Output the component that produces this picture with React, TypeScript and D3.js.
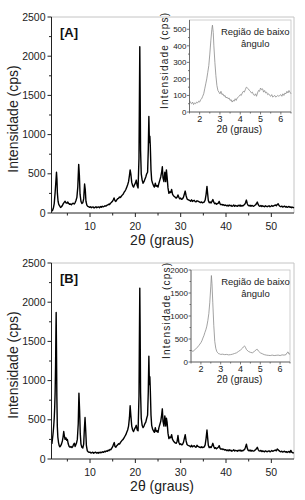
import React from 'react';
import * as d3 from 'd3';

type Pt = [number, number];

const xTicksMain = [10, 20, 30, 40, 50];
const yTicksMain = [0, 500, 1000, 1500, 2000, 2500];
const xTicksInset = [2, 3, 4, 5, 6];
const yTicksInsetA = [0, 100, 200, 300, 400, 500];
const yTicksInsetB = [0, 500, 1000, 1500, 2000];
const panelLabels = ['[A]', '[B]'];
const xTitle = '2θ (graus)';
const yTitle = 'Intensidade (cps)';
const insetNote = ['Região de baixo', 'ângulo'];

// amostra A, 2θ (graus) x intensidade (cps)
const patternA: Pt[] = [
  [1.5, 40], [1.7, 30], [1.9, 60], [2.1, 120], [2.3, 260], [2.5, 430], [2.6, 520], [2.7, 430], [2.8, 250],
  [2.95, 150], [3.1, 110], [3.3, 90], [3.5, 70], [3.7, 80], [3.9, 95], [4.1, 120], [4.3, 135], [4.5, 150],
  [4.7, 130], [4.9, 125], [5.1, 140], [5.3, 120], [5.5, 110], [5.7, 115], [5.9, 105], [6.1, 120], [6.3, 125],
  [6.5, 115], [6.7, 130], [6.9, 160], [7.1, 200], [7.3, 330], [7.5, 620], [7.65, 480], [7.8, 240], [8.0, 150],
  [8.2, 120], [8.4, 130], [8.6, 180], [8.8, 370], [8.95, 300], [9.1, 150], [9.3, 100], [9.5, 85], [9.7, 80],
  [9.9, 72], [10.1, 80], [10.3, 68], [10.5, 74], [10.7, 78], [10.9, 64], [11.1, 72], [11.3, 80], [11.5, 68],
  [11.7, 74], [11.9, 78], [12.1, 68], [12.3, 82], [12.5, 74], [12.7, 86], [12.9, 78], [13.1, 84], [13.3, 92],
  [13.5, 88], [13.7, 98], [13.9, 104], [14.1, 112], [14.3, 108], [14.5, 124], [14.7, 134], [14.9, 146],
  [15.1, 165], [15.3, 192], [15.5, 158], [15.7, 148], [15.9, 168], [16.1, 182], [16.3, 188], [16.5, 204],
  [16.7, 198], [16.9, 214], [17.1, 228], [17.3, 240], [17.5, 262], [17.7, 280], [17.9, 300], [18.1, 330],
  [18.3, 360], [18.5, 400], [18.7, 480], [18.85, 550], [19.0, 500], [19.2, 390], [19.4, 350], [19.6, 330],
  [19.8, 360], [20.0, 380], [20.2, 420], [20.4, 350], [20.6, 320], [20.8, 700], [20.9, 1500], [20.98, 2120],
  [21.05, 1600], [21.15, 800], [21.3, 500], [21.5, 420], [21.7, 380], [21.9, 400], [22.1, 430], [22.3, 460],
  [22.5, 500], [22.7, 520], [22.85, 800], [22.98, 1230], [23.1, 900], [23.2, 980], [23.3, 850], [23.45, 550],
  [23.6, 420], [23.8, 380], [24.0, 350], [24.2, 330], [24.4, 380], [24.6, 340], [24.8, 350], [25.0, 330],
  [25.2, 380], [25.4, 420], [25.6, 460], [25.8, 520], [25.95, 590], [26.1, 450], [26.3, 400], [26.5, 520],
  [26.6, 480], [26.7, 400], [26.85, 550], [27.0, 460], [27.2, 320], [27.4, 250], [27.6, 270], [27.8, 260],
  [28.0, 300], [28.2, 240], [28.4, 220], [28.6, 210], [28.8, 200], [29.0, 190], [29.2, 200], [29.4, 230],
  [29.6, 200], [29.8, 180], [30.0, 190], [30.2, 175], [30.4, 180], [30.6, 200], [30.8, 240], [31.0, 280],
  [31.2, 220], [31.4, 180], [31.6, 170], [31.8, 165], [32.0, 160], [32.2, 150], [32.4, 168], [32.6, 148],
  [32.8, 158], [33.0, 162], [33.2, 146], [33.4, 142], [33.6, 156], [33.8, 150], [34.0, 144], [34.2, 138],
  [34.4, 132], [34.6, 142], [34.8, 130], [35.0, 136], [35.2, 140], [35.4, 165], [35.6, 235], [35.8, 340],
  [35.95, 245], [36.1, 160], [36.3, 130], [36.5, 140], [36.7, 128], [36.9, 148], [37.1, 172], [37.3, 138],
  [37.5, 118], [37.7, 126], [37.9, 112], [38.1, 120], [38.3, 126], [38.5, 148], [38.7, 116], [38.9, 106],
  [39.1, 110], [39.3, 100], [39.5, 106], [39.7, 96], [39.9, 102], [40.1, 92], [40.3, 98], [40.5, 88],
  [40.7, 102], [40.9, 92], [41.1, 98], [41.3, 86], [41.5, 92], [41.7, 102], [41.9, 86], [42.1, 96],
  [42.3, 92], [42.5, 86], [42.7, 98], [42.9, 90], [43.1, 102], [43.3, 86], [43.5, 96], [43.7, 90],
  [43.9, 100], [44.1, 108], [44.3, 130], [44.5, 165], [44.7, 118], [44.9, 96], [45.1, 90], [45.3, 100],
  [45.5, 86], [45.7, 96], [45.9, 90], [46.1, 86], [46.3, 96], [46.5, 102], [46.7, 118], [46.9, 140],
  [47.1, 108], [47.3, 92], [47.5, 86], [47.7, 96], [47.9, 82], [48.1, 92], [48.3, 86], [48.5, 80],
  [48.7, 92], [48.9, 86], [49.1, 80], [49.3, 88], [49.5, 92], [49.7, 80], [49.9, 86], [50.1, 96],
  [50.3, 86], [50.5, 92], [50.7, 98], [50.9, 102], [51.1, 92], [51.3, 108], [51.5, 118], [51.7, 96],
  [51.9, 86], [52.1, 80], [52.3, 88], [52.5, 76], [52.7, 82], [52.9, 88], [53.1, 76], [53.3, 82],
  [53.5, 72], [53.7, 78], [53.9, 84], [54.1, 72], [54.3, 78], [54.5, 68], [54.7, 74], [55.0, 64],
];

// amostra B
const patternB: Pt[] = [
  [1.5, 220], [1.6, 200], [1.7, 250], [1.8, 300], [1.9, 360], [2.0, 430], [2.1, 520], [2.2, 650], [2.3, 850],
  [2.4, 1200], [2.48, 1650], [2.53, 1870], [2.6, 1400], [2.68, 800], [2.78, 420], [2.9, 280], [3.05, 210],
  [3.2, 170], [3.35, 155], [3.5, 165], [3.7, 190], [3.9, 230], [4.05, 280], [4.2, 350], [4.35, 290], [4.5, 250],
  [4.7, 270], [4.85, 240], [5.0, 250], [5.2, 190], [5.4, 160], [5.6, 150], [5.8, 160], [6.0, 145], [6.2, 160],
  [6.4, 190], [6.55, 200], [6.7, 160], [6.85, 180], [7.0, 200], [7.2, 250], [7.4, 450], [7.55, 840], [7.7, 620],
  [7.85, 320], [8.0, 190], [8.2, 150], [8.4, 140], [8.6, 190], [8.75, 380], [8.9, 530], [9.05, 360], [9.2, 170],
  [9.4, 105], [9.6, 90], [9.8, 84], [10.0, 88], [10.2, 76], [10.4, 82], [10.6, 86], [10.8, 74], [11.0, 82],
  [11.2, 88], [11.4, 76], [11.6, 82], [11.8, 74], [12.0, 86], [12.2, 78], [12.4, 88], [12.6, 82], [12.8, 92],
  [13.0, 86], [13.2, 98], [13.4, 92], [13.6, 104], [13.8, 98], [14.0, 112], [14.2, 106], [14.4, 122],
  [14.6, 118], [14.8, 138], [15.0, 158], [15.2, 190], [15.35, 210], [15.5, 160], [15.7, 150], [15.9, 170],
  [16.1, 180], [16.3, 195], [16.5, 190], [16.7, 210], [16.9, 225], [17.1, 240], [17.3, 250], [17.5, 270],
  [17.7, 290], [17.9, 310], [18.1, 340], [18.3, 370], [18.5, 420], [18.7, 530], [18.85, 680], [19.0, 560],
  [19.2, 420], [19.4, 370], [19.6, 350], [19.8, 380], [20.0, 400], [20.2, 430], [20.4, 370], [20.6, 360],
  [20.8, 800], [20.9, 1600], [20.98, 2180], [21.05, 1700], [21.15, 850], [21.3, 520], [21.5, 430], [21.7, 400],
  [21.9, 420], [22.1, 450], [22.3, 470], [22.5, 520], [22.7, 560], [22.85, 850], [22.98, 1310], [23.1, 950],
  [23.2, 1050], [23.3, 880], [23.45, 560], [23.6, 430], [23.8, 380], [24.0, 360], [24.2, 340], [24.4, 400],
  [24.6, 350], [24.8, 360], [25.0, 340], [25.2, 400], [25.4, 440], [25.6, 480], [25.8, 560], [25.95, 640],
  [26.1, 480], [26.3, 420], [26.5, 550], [26.6, 500], [26.7, 420], [26.85, 520], [27.0, 470], [27.2, 330],
  [27.4, 260], [27.6, 280], [27.8, 270], [28.0, 310], [28.2, 250], [28.4, 230], [28.6, 215], [28.8, 205],
  [29.0, 200], [29.2, 220], [29.4, 300], [29.6, 210], [29.8, 185], [30.0, 195], [30.2, 180], [30.4, 185],
  [30.6, 210], [30.8, 260], [31.0, 310], [31.2, 230], [31.4, 185], [31.6, 175], [31.8, 170], [32.0, 165],
  [32.2, 155], [32.4, 175], [32.6, 155], [32.8, 165], [33.0, 170], [33.2, 155], [33.4, 150], [33.6, 175],
  [33.8, 160], [34.0, 155], [34.2, 150], [34.4, 145], [34.6, 155], [34.8, 145], [35.0, 150], [35.2, 155],
  [35.4, 180], [35.6, 260], [35.8, 370], [35.95, 270], [36.1, 175], [36.3, 145], [36.5, 155], [36.7, 145],
  [36.9, 170], [37.1, 200], [37.3, 160], [37.5, 135], [37.7, 145], [37.9, 130], [38.1, 140], [38.3, 150],
  [38.5, 170], [38.7, 135], [38.9, 125], [39.1, 130], [39.3, 120], [39.5, 125], [39.7, 115], [39.9, 120],
  [40.1, 108], [40.3, 114], [40.5, 104], [40.7, 118], [40.9, 106], [41.1, 112], [41.3, 100], [41.5, 108],
  [41.7, 118], [41.9, 102], [42.1, 110], [42.3, 106], [42.5, 100], [42.7, 112], [42.9, 104], [43.1, 116],
  [43.3, 100], [43.5, 110], [43.7, 104], [43.9, 114], [44.1, 122], [44.3, 150], [44.5, 190], [44.7, 135],
  [44.9, 110], [45.1, 104], [45.3, 114], [45.5, 100], [45.7, 110], [45.9, 104], [46.1, 100], [46.3, 110],
  [46.5, 116], [46.7, 130], [46.9, 150], [47.1, 120], [47.3, 104], [47.5, 100], [47.7, 110], [47.9, 94],
  [48.1, 104], [48.3, 98], [48.5, 92], [48.7, 104], [48.9, 98], [49.1, 92], [49.3, 100], [49.5, 104],
  [49.7, 92], [49.9, 98], [50.1, 108], [50.3, 98], [50.5, 104], [50.7, 110], [50.9, 114], [51.1, 104],
  [51.3, 128], [51.5, 118], [51.7, 106], [51.9, 98], [52.1, 92], [52.3, 100], [52.5, 88], [52.7, 94],
  [52.9, 100], [53.1, 88], [53.3, 94], [53.5, 84], [53.7, 90], [53.9, 96], [54.1, 84], [54.3, 110],
  [54.5, 88], [54.7, 80], [55.0, 78],
];

// regiao de baixo angulo, amostra A
const insetA: Pt[] = [
  [1.5, 70], [1.55, 55], [1.6, 50], [1.65, 60], [1.7, 45], [1.75, 55], [1.8, 50], [1.85, 60], [1.9, 55],
  [1.95, 65], [2.0, 60], [2.05, 75], [2.1, 80], [2.15, 95], [2.2, 110], [2.25, 140], [2.3, 170], [2.35, 200],
  [2.4, 240], [2.45, 280], [2.5, 350], [2.55, 430], [2.6, 500], [2.63, 525], [2.67, 480], [2.7, 400],
  [2.75, 300], [2.8, 220], [2.85, 160], [2.9, 130], [2.95, 120], [3.0, 110], [3.05, 125], [3.1, 105],
  [3.15, 110], [3.2, 95], [3.25, 100], [3.3, 85], [3.35, 90], [3.4, 80], [3.45, 85], [3.5, 70], [3.55, 75],
  [3.6, 60], [3.65, 70], [3.7, 65], [3.75, 80], [3.8, 70], [3.85, 85], [3.9, 90], [3.95, 95], [4.0, 105],
  [4.05, 100], [4.1, 115], [4.15, 125], [4.2, 120], [4.25, 135], [4.3, 150], [4.35, 145], [4.4, 140],
  [4.45, 130], [4.5, 125], [4.55, 115], [4.6, 120], [4.65, 105], [4.7, 100], [4.75, 110], [4.8, 95],
  [4.85, 115], [4.9, 130], [4.95, 125], [5.0, 145], [5.05, 135], [5.1, 140], [5.15, 120], [5.2, 130],
  [5.25, 115], [5.3, 120], [5.35, 105], [5.4, 110], [5.45, 100], [5.5, 95], [5.55, 105], [5.6, 90],
  [5.65, 95], [5.7, 100], [5.75, 90], [5.8, 95], [5.85, 100], [5.9, 95], [5.95, 100], [6.0, 105],
  [6.05, 95], [6.1, 110], [6.15, 100], [6.2, 115], [6.25, 110], [6.3, 125], [6.35, 115], [6.4, 130],
  [6.45, 120], [6.5, 110],
];

// regiao de baixo angulo, amostra B
const insetB: Pt[] = [
  [1.5, 260], [1.55, 240], [1.6, 230], [1.65, 250], [1.7, 270], [1.75, 290], [1.8, 310], [1.85, 330],
  [1.9, 360], [1.95, 390], [2.0, 420], [2.05, 460], [2.1, 520], [2.15, 570], [2.2, 640], [2.25, 700],
  [2.3, 780], [2.35, 900], [2.4, 1050], [2.45, 1300], [2.5, 1650], [2.53, 1880], [2.56, 1700], [2.6, 1300],
  [2.65, 800], [2.7, 450], [2.75, 300], [2.8, 230], [2.85, 200], [2.9, 180], [2.95, 175], [3.0, 165],
  [3.1, 170], [3.2, 160], [3.3, 165], [3.4, 155], [3.5, 160], [3.6, 170], [3.7, 185], [3.8, 200], [3.9, 230],
  [4.0, 260], [4.1, 300], [4.15, 330], [4.2, 350], [4.25, 320], [4.3, 270], [4.4, 230], [4.5, 210], [4.6, 200],
  [4.7, 230], [4.8, 270], [4.85, 275], [4.9, 240], [5.0, 200], [5.1, 180], [5.2, 160], [5.3, 150], [5.4, 145],
  [5.5, 140], [5.6, 150], [5.7, 140], [5.8, 145], [5.9, 150], [6.0, 140], [6.1, 155], [6.2, 150], [6.3, 160],
  [6.35, 200], [6.4, 220], [6.45, 170], [6.5, 180],
];

const font = "'Liberation Sans', Arial, Helvetica, sans-serif";

const xMain = d3.scaleLinear().domain([1.5, 55]).range([51.5, 294]);
const plotH = 196;

type Box = { x0: number; x1: number; y0: number; y1: number };

function Inset({ box, data, yMax, yTicks, yMinor }: { box: Box; data: Pt[]; yMax: number; yTicks: number[]; yMinor: number[] }) {
  const x = d3.scaleLinear().domain([1.5, 6.5]).range([box.x0, box.x1]);
  const y = d3.scaleLinear().domain([0, yMax]).range([box.y1, box.y0]);
  const line = d3.line<Pt>().x(d => x(d[0])).y(d => y(d[1]));
  const xMinor = d3.range(1.5, 6.6, 0.5).filter(v => v % 1 !== 0);
  const cx = (box.x0 + box.x1) / 2;
  const mid = (box.y0 + box.y1) / 2;
  return (
    <g>
      <rect x={box.x0} y={box.y0} width={box.x1 - box.x0} height={box.y1 - box.y0} fill="#fff" stroke="#c4c4c4" strokeWidth={0.8} />
      <path d={line(data) ?? ''} fill="none" stroke="#8a8a8a" strokeWidth={0.8} />
      <line x1={box.x0} x2={box.x0} y1={box.y0} y2={box.y1} stroke="#555" strokeWidth={0.8} />
      <line x1={box.x0} x2={box.x1} y1={box.y1} y2={box.y1} stroke="#555" strokeWidth={0.8} />
      {yTicks.map(t => (
        <g key={'y' + t}>
          <line x1={box.x0 - 2.5} x2={box.x0} y1={y(t)} y2={y(t)} stroke="#555" strokeWidth={0.8} />
          <text x={box.x0 - 3} y={y(t) + 2.8} fontSize={8} fontFamily={font} textAnchor="end" fill="#222">{t}</text>
        </g>
      ))}
      {yMinor.map(t => (
        <line key={'ym' + t} x1={box.x0 - 1.5} x2={box.x0} y1={y(t)} y2={y(t)} stroke="#555" strokeWidth={0.8} />
      ))}
      {xTicksInset.map(t => (
        <g key={'x' + t}>
          <line x1={x(t)} x2={x(t)} y1={box.y1} y2={box.y1 + 2.5} stroke="#555" strokeWidth={0.8} />
          <text x={x(t)} y={box.y1 + 10} fontSize={9} fontFamily={font} textAnchor="middle" fill="#222">{t}</text>
        </g>
      ))}
      {xMinor.map(t => (
        <line key={'xm' + t} x1={x(t)} x2={x(t)} y1={box.y1} y2={box.y1 + 1.5} stroke="#555" strokeWidth={0.8} />
      ))}
      <text x={cx - 1} y={box.y1 + 20.5} fontSize={10} fontFamily={font} textAnchor="middle" fill="#222">{xTitle}</text>
      <text transform={`translate(${box.x0 - 21.5},${mid - 5}) rotate(-90)`} fontSize={10} fontFamily={font}
        textAnchor="middle" textLength={96} lengthAdjust="spacing" fill="#222">{yTitle}</text>
      <text x={cx + 15} y={box.y0 + 14.5} fontSize={9.5} fontFamily={font} textAnchor="middle" fill="#222">{insetNote[0]}</text>
      <text x={cx + 15} y={box.y0 + 26.5} fontSize={9.5} fontFamily={font} textAnchor="middle" fill="#222">{insetNote[1]}</text>
    </g>
  );
}

function Panel({ top, label, data, children }: { top: number; label: string; data: Pt[]; children?: React.ReactNode }) {
  const bottom = top + plotH;
  const y = d3.scaleLinear().domain([0, 2500]).range([bottom, top]);
  const line = d3.line<Pt>().x(d => xMain(d[0])).y(d => y(d[1]));
  const [xl, xr] = xMain.range();
  const minorX = d3.range(5, 55, 10);
  const minorY = d3.range(250, 2500, 500);
  return (
    <g>
      <line x1={xl} x2={xr} y1={top} y2={top} stroke="#c4c4c4" strokeWidth={1} />
      <line x1={xr} x2={xr} y1={top} y2={bottom} stroke="#c4c4c4" strokeWidth={1} />
      <path d={line(data) ?? ''} fill="none" stroke="#000" strokeWidth={1.4} strokeLinejoin="round" />
      <line x1={xl} x2={xl} y1={top} y2={bottom} stroke="#222" strokeWidth={1} />
      <line x1={xl} x2={xr} y1={bottom} y2={bottom} stroke="#222" strokeWidth={1} />
      {yTicksMain.map(t => (
        <g key={'y' + t}>
          <line x1={xl - 4} x2={xl} y1={y(t)} y2={y(t)} stroke="#222" strokeWidth={1} />
          <text x={xl - 6} y={y(t) + 3.6} fontSize={10.5} fontFamily={font} textAnchor="end" fill="#222">{t}</text>
        </g>
      ))}
      {minorY.map(t => (
        <line key={'ym' + t} x1={xl - 2.5} x2={xl} y1={y(t)} y2={y(t)} stroke="#222" strokeWidth={1} />
      ))}
      {xTicksMain.map(t => (
        <g key={'x' + t}>
          <line x1={xMain(t)} x2={xMain(t)} y1={bottom} y2={bottom + 4} stroke="#222" strokeWidth={1} />
          <text x={xMain(t)} y={bottom + 16.5} fontSize={10.5} fontFamily={font} textAnchor="middle" fill="#222">{t}</text>
        </g>
      ))}
      {minorX.map(t => (
        <line key={'xm' + t} x1={xMain(t)} x2={xMain(t)} y1={bottom} y2={bottom + 2.5} stroke="#222" strokeWidth={1} />
      ))}
      <text x={162} y={bottom + 32} fontSize={14} fontFamily={font} textAnchor="middle" fill="#222">{xTitle}</text>
      <text transform={`translate(17.5,${top + 102}) rotate(-90)`} fontSize={14} fontFamily={font}
        textAnchor="middle" fill="#222">{yTitle}</text>
      <text x={60} y={top + 19.5} fontSize={13} fontWeight="bold" fontFamily={font} fill="#111">{label}</text>
      {children}
    </g>
  );
}

export default function App() {
  return (
    <svg width={305} height={500} viewBox="0 0 305 500"
      style={{ position: 'absolute', left: 0, top: 0, background: '#fff' }}>
      <rect width={305} height={500} fill="#fff" />
      <Panel top={17} label={panelLabels[0]} data={patternA}>
        <Inset box={{ x0: 189.5, x1: 291, y0: 20, y1: 112 }} data={insetA} yMax={556}
          yTicks={yTicksInsetA} yMinor={[50, 150, 250, 350, 450]} />
      </Panel>
      <Panel top={263} label={panelLabels[1]} data={patternB}>
        <Inset box={{ x0: 191, x1: 290, y0: 270, y1: 362 }} data={insetB} yMax={2000}
          yTicks={yTicksInsetB} yMinor={[250, 750, 1250, 1750]} />
      </Panel>
    </svg>
  );
}
